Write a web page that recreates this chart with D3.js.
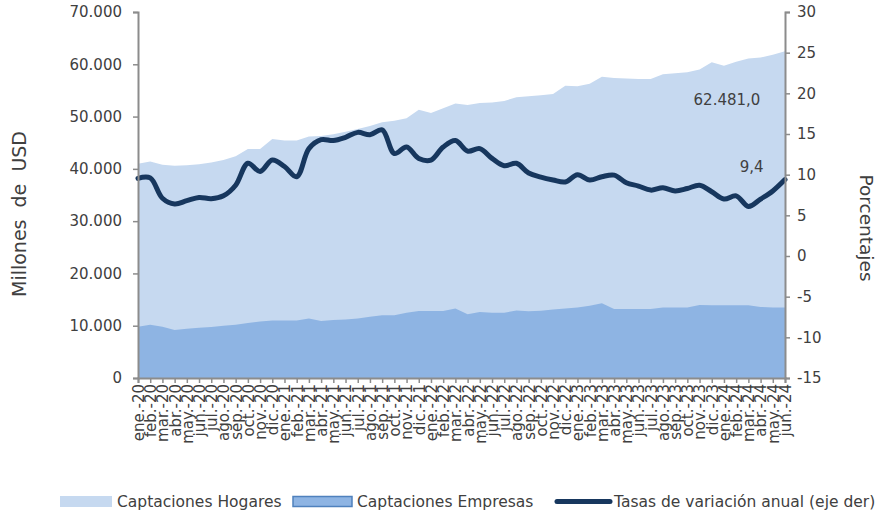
<!DOCTYPE html>
<html><head><meta charset="utf-8">
<script src="https://cdn.jsdelivr.net/npm/d3@7"></script>
<style>body{margin:0;background:#fff}svg{display:block}text{font-family:"DejaVu Sans",sans-serif;fill:#404040}</style>
</head><body><svg id="c" width="880" height="513"></svg>
<script>
const mesesAbr = ["ene.","feb.","mar.","abr.","may.","jun.","jul.","ago.","sep.","oct.","nov.","dic."];
const anios = ["20","21","22","23","24"];
const categories = [];
anios.forEach(a => mesesAbr.forEach(m => categories.push(m + "-" + a)));
categories.length = 54; // ene.-20 .. jun.-24

const hogares = [41.0,41.4,40.8,40.6,40.7,40.9,41.2,41.7,42.4,43.8,43.8,45.7,45.4,45.4,46.2,46.3,46.6,47.1,47.6,48.2,48.9,49.2,49.7,51.3,50.7,51.6,52.5,52.2,52.6,52.7,53.0,53.7,53.9,54.1,54.3,55.9,55.8,56.3,57.6,57.4,57.3,57.2,57.2,58.1,58.3,58.5,59.0,60.4,59.7,60.5,61.1,61.3,61.8,62.481].map(v => v*1000);
const empresas = [9.8,10.2,9.8,9.2,9.4,9.6,9.75,10.0,10.2,10.5,10.8,11.0,11.0,11.0,11.4,10.9,11.1,11.2,11.4,11.7,12.0,12.0,12.5,12.8,12.8,12.8,13.3,12.2,12.6,12.5,12.5,12.9,12.75,12.85,13.1,13.3,13.5,13.8,14.3,13.2,13.2,13.2,13.2,13.5,13.5,13.5,13.95,13.9,13.9,13.9,13.9,13.6,13.5,13.5].map(v => v*1000);
const tasas = [9.55,9.6,7.1,6.4,6.8,7.2,7.05,7.4,8.7,11.4,10.4,11.8,11.0,9.75,13.2,14.3,14.2,14.6,15.2,14.9,15.5,12.6,13.4,12.0,11.8,13.4,14.2,12.9,13.2,12.0,11.1,11.4,10.2,9.7,9.35,9.1,10.0,9.35,9.75,9.95,9.0,8.6,8.1,8.4,8.0,8.3,8.7,7.9,7.0,7.4,6.1,7.0,8.0,9.4];

const leftTicks = [0,10000,20000,30000,40000,50000,60000,70000];
const rightTicks = [-15,-10,-5,0,5,10,15,20,25,30];
const labelTotal = "62.481,0";
const labelTasa = "9,4";

const svg = d3.select("#c");
const L = 138, R = 785, T = 12, B = 378;
const x = d3.scalePoint().domain(categories).range([L, R]);
const yL = d3.scaleLinear().domain([0,70000]).range([B, T]);
const yR = d3.scaleLinear().domain([-15,30]).range([B, T]);
const fmt = d => d3.format(",")(d).replace(/,/g, ".");

svg.append("path").datum(hogares)
  .attr("fill", "#C6D9F0")
  .attr("d", d3.area().x((d,i)=>x(categories[i])).y0(yL(0)).y1(d=>yL(d)));
svg.append("path").datum(empresas)
  .attr("fill", "#8EB4E3")
  .attr("d", d3.area().x((d,i)=>x(categories[i])).y0(yL(0)).y1(d=>yL(d)));

svg.append("path").datum(tasas)
  .attr("fill","none").attr("stroke","#17375E").attr("stroke-width",5)
  .attr("stroke-linejoin","round").attr("stroke-linecap","round")
  .attr("d", d3.line().x((d,i)=>x(categories[i])).y(d=>yR(d)).curve(d3.curveCatmullRom.alpha(0.5)));

// axes
const gl = svg.append("g").attr("transform",`translate(${L},0)`)
  .call(d3.axisLeft(yL).tickValues(leftTicks).tickFormat(fmt).tickSize(5).tickPadding(11));
const gr = svg.append("g").attr("transform",`translate(${R},0)`)
  .call(d3.axisRight(yR).tickValues(rightTicks).tickFormat(d=>String(d)).tickSize(5).tickPadding(7));
const gx = svg.append("g").attr("transform",`translate(0,${B})`)
  .call(d3.axisBottom(x).tickSize(5).tickPadding(3));
[gl,gr,gx].forEach(g=>{
  g.selectAll("path.domain").attr("stroke","#8c8c8c").attr("stroke-width",2);
  g.selectAll(".tick line").attr("stroke","#8c8c8c").attr("stroke-width",1.5);
  g.selectAll("text").style("font-family","DejaVu Sans").attr("fill","#404040");
});
gl.selectAll("text").style("font-size","15px");
gr.selectAll("text").style("font-size","15px");
gx.selectAll("text").style("font-size","15px")
  .attr("transform","rotate(-90)").attr("text-anchor","end")
  .attr("x",-6).attr("y",0).attr("dy","0.36em");

// axis titles
svg.append("text").attr("transform","translate(26,214) rotate(-90)")
  .attr("text-anchor","middle").style("font-size","19px").style("white-space","pre").text("Millones  de  USD");
svg.append("text").attr("transform","translate(860,228) rotate(90)")
  .attr("text-anchor","middle").style("font-size","18.5px").text("Porcentajes");

// data labels
svg.append("text").attr("x",x(categories[48])+3).attr("y",yL(52300)).attr("text-anchor","middle")
  .style("font-size","15px").text(labelTotal);
svg.append("text").attr("x",x(categories[51])-9).attr("y",yR(10.3)).attr("text-anchor","middle")
  .style("font-size","15px").text(labelTasa);

// legend
const lg = svg.append("g").style("font-size","15.5px");
lg.append("rect").attr("x",60).attr("y",496).attr("width",52).attr("height",11).attr("fill","#C6D9F0");
lg.append("text").attr("x",117).attr("y",507).text("Captaciones Hogares");
lg.append("rect").attr("x",293).attr("y",496.5).attr("width",59).attr("height",10).attr("fill","#8EB4E3").attr("stroke","#4F81BD").attr("stroke-width",1.5);
lg.append("text").attr("x",357).attr("y",507).text("Captaciones Empresas");
lg.append("line").attr("x1",557).attr("x2",610).attr("y1",501.5).attr("y2",501.5).attr("stroke","#17375E").attr("stroke-width",5).attr("stroke-linecap","round");
lg.append("text").attr("x",614).attr("y",507).text("Tasas de variación anual (eje der)");
</script></body></html>
